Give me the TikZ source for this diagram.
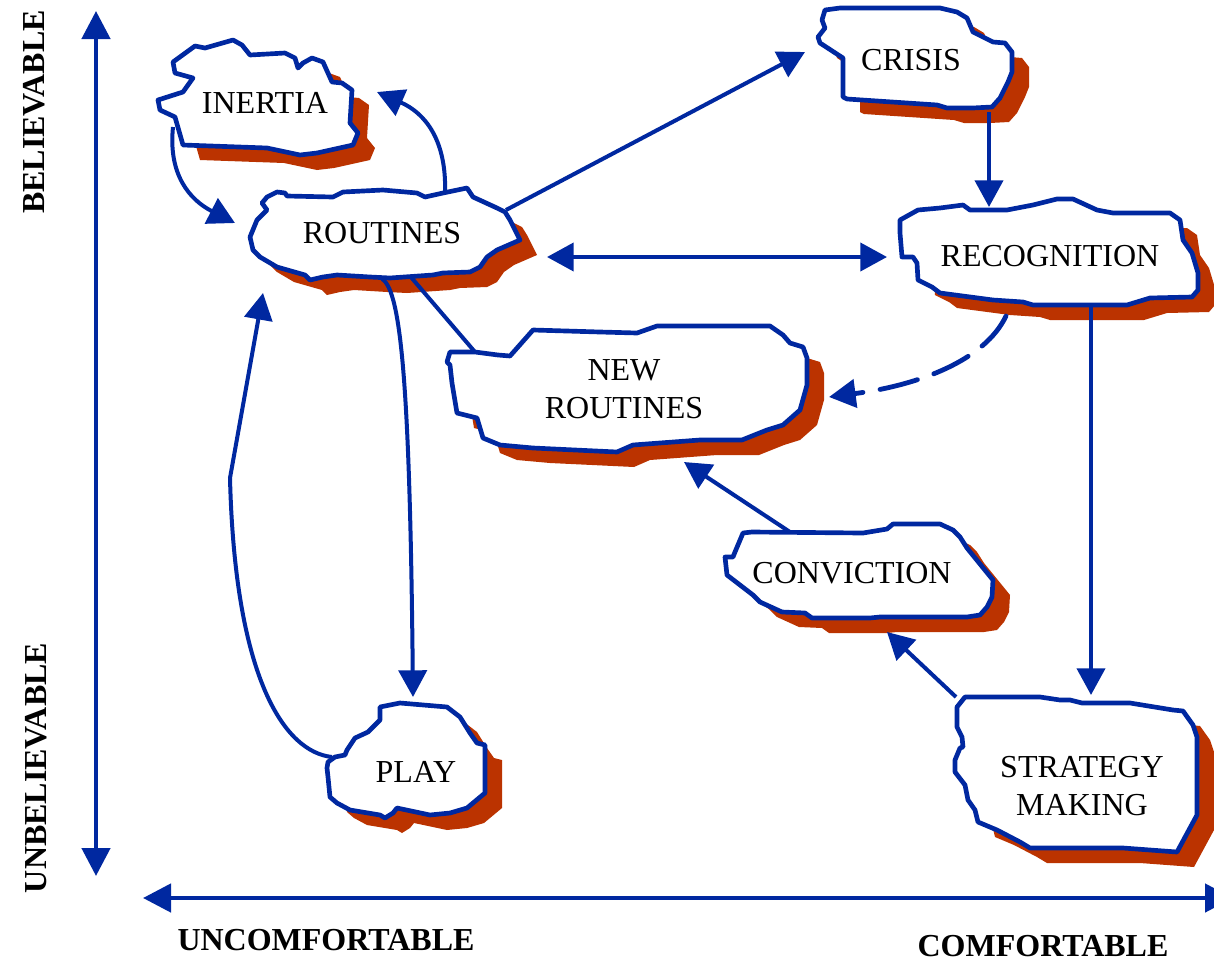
\documentclass[tikz,border=0pt]{standalone}
\usepackage{fontspec}
\setmainfont{Liberation Serif}
\usetikzlibrary{arrows.meta}
\definecolor{lineblue}{RGB}{0,40,160}
\definecolor{shadowred}{RGB}{187,51,0}

\tikzset{
  blobline/.style={draw=lineblue, fill=white, line width=3.5pt, line join=round},
  blobshadow/.style={fill=shadowred, shift={(17,15)}},
  blobtext/.style={font=\fontsize{24pt}{28.5pt}\selectfont, align=center, inner sep=0pt, text=black},
  conn/.style={draw=lineblue, line width=3pt, -{Triangle[length=20pt,width=21pt]}},
  conn2/.style={draw=lineblue, line width=3pt, {Triangle[length=20pt,width=21pt]}-{Triangle[length=20pt,width=21pt]}},
  plainconn/.style={draw=lineblue, line width=3pt},
  dashconn/.style={draw=lineblue, line width=3.6pt, line cap=round, dash pattern=on 29pt off 13pt, -{Triangle[length=20pt,width=21pt]}},
  axisline/.style={draw=lineblue, line width=3.5pt, {Triangle[length=21pt,width=21pt]}-{Triangle[length=21pt,width=21pt]}},
  axislabel/.style={font=\fontsize{24pt}{28pt}\selectfont\bfseries, inner sep=0pt, anchor=base},
}

% shadow of a cloud outline, drawn first so that connectors can pass over it
\newcommand\blobshade[1]{\fill[blobshadow] #1 -- cycle;}
% white cloud with blue rim
\newcommand\blobface[1]{\path[blobline] #1 -- cycle;}

\newcommand\inertiaP{(173,62) -- (195,46) -- (205,48) -- (233,40) -- (242,45) -- (250,55) -- (285,53) -- (295,58) -- (298,68) -- (303,63) -- (312,58) -- (323,62) -- (332,82) -- (342,83) -- (352,90) -- (350,123) -- (358,133) -- (353,145) -- (317,153) -- (300,155) -- (267,148) -- (183,145) -- (175,117) -- (160,110) -- (158,100) -- (183,92) -- (193,78) -- (175,73)}
\newcommand\routinesP{(262,203) -- (267,197) -- (277,192) -- (285,193) -- (287,196) -- (333,197) -- (343,192) -- (383,190) -- (417,193) -- (425,197) -- (443,193) -- (467,188) -- (473,197) -- (497,208) -- (505,212) -- (510,220) -- (520,240) -- (497,250) -- (487,257) -- (480,267) -- (470,272) -- (443,273) -- (433,275) -- (390,278) -- (370,277) -- (337,275) -- (323,277) -- (310,280) -- (305,275) -- (277,267) -- (260,257) -- (253,250) -- (250,237) -- (257,220) -- (267,210)}
\newcommand\crisisP{(825,10) -- (840,8) -- (940,8) -- (957,12) -- (967,18) -- (973,32) -- (993,42) -- (1005,43) -- (1012,52) -- (1012,72) -- (1008,82) -- (1000,98) -- (992,107) -- (973,108) -- (947,108) -- (937,105) -- (847,99) -- (843,97) -- (843,58) -- (820,43) -- (818,37) -- (825,28) -- (822,20)}
\newcommand\recognitionP{(900,220) -- (918,210) -- (940,208) -- (963,205) -- (970,210) -- (1007,210) -- (1033,205) -- (1057,199) -- (1073,199) -- (1097,210) -- (1113,213) -- (1170,213) -- (1180,220) -- (1183,240) -- (1192,253) -- (1198,273) -- (1198,290) -- (1192,297) -- (1150,298) -- (1127,305) -- (1033,305) -- (1023,302) -- (993,300) -- (940,293) -- (932,287) -- (918,280) -- (917,263) -- (913,257) -- (902,257) -- (900,233)}
\newcommand\newroutinesP{(450,352) -- (475,352) -- (498,355) -- (510,356) -- (533,330) -- (600,332) -- (637,333) -- (657,326) -- (770,326) -- (783,335) -- (790,343) -- (803,347) -- (807,358) -- (807,385) -- (800,410) -- (783,425) -- (767,430) -- (742,440) -- (700,440) -- (633,445) -- (617,452) -- (533,448) -- (500,445) -- (483,438) -- (477,418) -- (457,413) -- (452,383) -- (450,365) -- (447,362)}
\newcommand\convictionP{(743,533) -- (752,532) -- (863,533) -- (887,529) -- (893,524) -- (940,524) -- (953,530) -- (960,537) -- (967,548) -- (993,580) -- (992,597) -- (987,607) -- (980,615) -- (967,617) -- (880,617) -- (870,618) -- (812,618) -- (805,613) -- (782,612) -- (760,602) -- (753,595) -- (727,575) -- (725,557) -- (733,557) -- (735,552)}
\newcommand\strategyP{(957,707) -- (965,697) -- (1040,697) -- (1060,700) -- (1070,700) -- (1082,703) -- (1130,703) -- (1173,710) -- (1183,711) -- (1193,725) -- (1197,737) -- (1197,815) -- (1177,852) -- (1123,848) -- (1030,848) -- (1020,842) -- (997,830) -- (978,822) -- (975,810) -- (968,800) -- (965,785) -- (955,772) -- (955,760) -- (960,748) -- (963,747) -- (962,737) -- (957,727)}
\newcommand\playP{(380,707) -- (400,703) -- (447,707) -- (460,717) -- (470,733) -- (477,743) -- (485,745) -- (485,793) -- (467,808) -- (450,813) -- (430,815) -- (397,808) -- (393,813) -- (385,818) -- (380,815) -- (350,810) -- (337,803) -- (330,797) -- (328,777) -- (327,768) -- (328,762) -- (335,757) -- (345,755) -- (347,750) -- (355,738) -- (368,732) -- (380,720)}

\begin{document}
\begin{tikzpicture}[x=0.75pt, y=-0.75pt]
\clip (0,0) rectangle (1214,961);
\fill[white] (0,0) rectangle (1214,961);

% shadows
\blobshade{\inertiaP}
\blobshade{\routinesP}
\blobshade{\crisisP}
\blobshade{\recognitionP}
\blobshade{\newroutinesP}
\blobshade{\convictionP}
\blobshade{\strategyP}
\blobshade{\playP}

% connector end points
\coordinate (inertia-out) at (173,127);
\coordinate (routines-in1) at (235,223);
\coordinate (routines-top) at (445,194);
\coordinate (inertia-in) at (377,92);
\coordinate (routines-ne) at (506,210);
\coordinate (crisis-in) at (805,52);
\coordinate (crisis-out) at (989,112);
\coordinate (recognition-in) at (989,207);
\coordinate (routines-e) at (547,257);
\coordinate (recognition-w) at (887,257);
\coordinate (recognition-sw) at (1006,316);
\coordinate (newroutines-e) at (829,397);
\coordinate (recognition-s) at (1091,305);
\coordinate (strategy-in) at (1091,695);
\coordinate (strategy-nw) at (956,697);
\coordinate (conviction-in) at (887,632);
\coordinate (conviction-nw) at (790,532);
\coordinate (newroutines-s) at (684,462);
\coordinate (routines-s) at (410,276);
\coordinate (newroutines-nw) at (475,352);
\coordinate (routines-bottom) at (382,279);
\coordinate (play-in) at (413,697);
\coordinate (play-w) at (332,757);
\coordinate (bend) at (230,478);
\coordinate (routines-in2) at (263,293);
\coordinate (yaxis-top) at (96,11);
\coordinate (yaxis-bottom) at (96,876);
\coordinate (xaxis-left) at (143,898);
\coordinate (xaxis-right) at (1233,898);

% axes
\draw[axisline] (yaxis-top) -- (yaxis-bottom);
\draw[axisline] (xaxis-left) -- (xaxis-right);

% connectors
\draw[conn] (inertia-out) .. controls (168,175) and (190,200) .. (routines-in1);
\draw[conn] (routines-top) .. controls (447,140) and (425,113) .. (inertia-in);
\draw[conn] (routines-ne) -- (crisis-in);
\draw[conn] (crisis-out) -- (recognition-in);
\draw[conn2] (routines-e) -- (recognition-w);
\draw[dashconn] (recognition-sw) .. controls (985,360) and (920,385) .. (newroutines-e);
\draw[conn] (recognition-s) -- (strategy-in);
\draw[conn] (strategy-nw) -- (conviction-in);
\draw[conn] (conviction-nw) -- (newroutines-s);
\draw[plainconn] (routines-s) -- (newroutines-nw);
\draw[conn] (routines-bottom) .. controls (402,290) and (410,400) .. (play-in);
\draw[conn] (play-w) .. controls (285,752) and (235,680) .. (bend) -- (routines-in2);

% clouds
\blobface{\inertiaP}
\blobface{\routinesP}
\blobface{\crisisP}
\blobface{\recognitionP}
\blobface{\newroutinesP}
\blobface{\convictionP}
\blobface{\strategyP}
\blobface{\playP}

\node[blobtext] (inertia) at (265,103) {INERTIA};
\node[blobtext] (routines) at (382,233) {ROUTINES};
\node[blobtext] (crisis) at (911,60) {CRISIS};
\node[blobtext] (recognition) at (1050,256) {RECOGNITION};
\node[blobtext] (newroutines) at (624,389) {NEW\\ROUTINES};
\node[blobtext] (conviction) at (852,573) {CONVICTION};
\node[blobtext] (strategy) at (1082,786) {STRATEGY\\MAKING};
\node[blobtext] (play) at (416,772) {PLAY};

% axis labels
\node[axislabel, rotate=90] (believable) at (44,112) {BELIEVABLE};
\node[axislabel, rotate=90] (unbelievable) at (46,768) {UNBELIEVABLE};
\node[axislabel] (uncomfortable) at (326,950) {UNCOMFORTABLE};
\node[axislabel] (comfortable) at (1043,956) {COMFORTABLE};
\end{tikzpicture}
\end{document}
